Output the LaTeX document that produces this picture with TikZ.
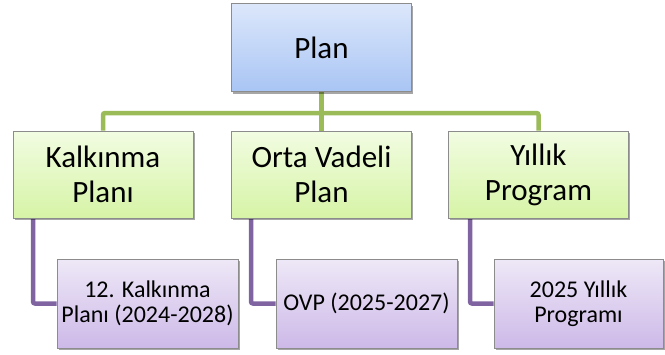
\documentclass[tikz,border=0pt]{standalone}
\usepackage{fontspec}
\setmainfont{Carlito}
\usetikzlibrary{shadows,backgrounds}
\definecolor{bluetop}{HTML}{DCE7FB}
\definecolor{bluebot}{HTML}{A9C5F4}
\definecolor{greentop}{HTML}{F2FCE2}
\definecolor{greenbot}{HTML}{D6F4A6}
\definecolor{purptop}{HTML}{EEE8F7}
\definecolor{purpbot}{HTML}{CDB9E8}
\definecolor{boxedge}{HTML}{8C8C8C}
\definecolor{greenline}{HTML}{9BBB59}
\definecolor{purpline}{HTML}{8064A2}
\tikzset{
  basebox/.style={draw=boxedge, line width=0.8pt, inner sep=0pt, align=center,
    drop shadow={shadow xshift=1.5pt, shadow yshift=-2pt, fill=black, opacity=0.35}},
  topbox/.style={basebox, top color=bluetop, bottom color=bluebot,
    minimum width=180pt, minimum height=88pt, font=\fontsize{31}{36}\selectfont},
  midbox/.style={basebox, top color=greentop, bottom color=greenbot,
    minimum width=180pt, minimum height=87pt, font=\fontsize{31}{35}\selectfont},
  lowbox/.style={basebox, top color=purptop, bottom color=purpbot,
    minimum width=181pt, minimum height=89pt, font=\fontsize{24}{25}\selectfont},
  gline/.style={draw=greenline, line width=4.5pt, rounded corners=2pt},
  pline/.style={draw=purpline, line width=4.5pt, rounded corners=2pt},
}
\begin{document}
\begin{tikzpicture}[x=1pt,y=-1pt]
\useasboundingbox (0,0) rectangle (665,354);
\coordinate (hl) at (103,113);
\coordinate (hr) at (538.5,113);
\coordinate (hm) at (321.5,113);
\node[topbox] (plan) at (321.5,47.5) {Plan};
\node[midbox] (kp) at (103,174.5) {Kalkınma\\Planı};
\node[midbox] (ovp) at (321.5,174.5) {Orta Vadeli\\Plan};
\node[midbox] (yp) at (538.5,174.5) {Yıllık\\Program};
\node[lowbox] (kp2) at (147.5,303.5) {12. Kalkınma\\Planı (2024-2028)};
\node[lowbox] (ovp2) at (366.5,303.5) {OVP (2025-2027)};
\node[lowbox, minimum width=169pt] (yp2) at (578.5,303.5) {2025 Yıllık\\Programı};
\begin{scope}[on background layer]
\draw[gline] (plan.south) -- (hm);
\draw[gline] (kp.north) -- (hl) -- (hr) -- (yp.north);
\draw[gline] (hm) -- (ovp.north);
\draw[pline] (kp.south -| 33,0) |- (kp2.west);
\draw[pline] (ovp.south -| 251,0) |- (ovp2.west);
\draw[pline] (yp.south -| 470,0) |- (yp2.west);
\end{scope}
\end{tikzpicture}
\end{document}
